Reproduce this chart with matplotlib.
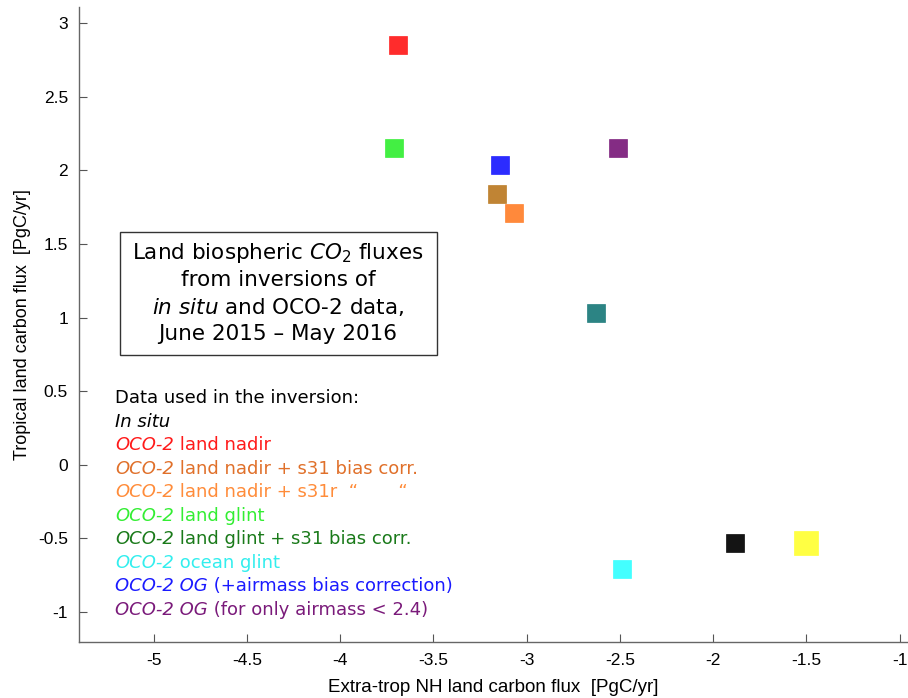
import matplotlib.pyplot as plt
from matplotlib.patches import Rectangle

# flux estimates [PgC/yr]
extratrop = [-3.69, -3.71, -3.14, -2.51, -3.16, -3.07, -2.63, -1.88, -1.50, -2.49]
tropical = [2.85, 2.15, 2.04, 2.15, 1.84, 1.71, 1.03, -0.53, -0.53, -0.71]
point_colors = ['#FF1A1A', '#33EE33', '#1A1AFF', '#7A1A7A', '#BB7A22',
                '#FF7F2A', '#1A7A7A', '#000000', '#FFFF33', '#33FFFF']
point_sizes = [13, 13, 13, 13, 13, 13, 13, 13, 17, 13]

# legend-style text: (italic part, normal part, colour)
legend_rows = [
    ('', 'Data used in the inversion:', '#000000'),
    ('In situ', '', '#000000'),
    ('OCO-2', ' land nadir', '#FF1A1A'),
    ('OCO-2', ' land nadir + s31 bias corr.', '#E0702A'),
    ('OCO-2', ' land nadir + s31r  \u201c       \u201c', '#FF8C3A'),
    ('OCO-2', ' land glint', '#33EE33'),
    ('OCO-2', ' land glint + s31 bias corr.', '#1A7A1A'),
    ('OCO-2', ' ocean glint', '#33EEEE'),
    ('OCO-2 OG', ' (+airmass bias correction)', '#1A1AFF'),
    ('OCO-2 OG', ' (for only airmass < 2.4)', '#7A1A7A'),
]

title_lines = [r'Land biospheric $\mathit{CO}_2$ fluxes',
               'from inversions of',
               r'$\mathit{in\ situ}$ and OCO-2 data,',
               'June 2015 \u2013 May 2016']

plt.rcParams['mathtext.fontset'] = 'dejavusans'

fig = plt.figure(figsize=(9.08, 6.98), dpi=100)
ax = fig.add_axes([0.087, 0.0802, 0.913, 0.9097])

for x, y, c, s in zip(extratrop, tropical, point_colors, point_sizes):
    ax.plot(x, y, 's', color=c, markersize=s, markeredgewidth=0.5,
            markeredgecolor=c, alpha=0.92)

ax.set_xlim(-5.4, -0.955)
ax.set_ylim(-1.204, 3.11)
ax.set_xticks([-5, -4.5, -4, -3.5, -3, -2.5, -2, -1.5, -1])
ax.set_xticklabels(['-5', '-4.5', '-4', '-3.5', '-3', '-2.5', '-2', '-1.5', '-1'])
ax.set_yticks([-1, -0.5, 0, 0.5, 1, 1.5, 2, 2.5, 3])
ax.set_yticklabels(['-1', '-0.5', '0', '0.5', '1', '1.5', '2', '2.5', '3'])
ax.tick_params(direction='in', length=6, width=0.8, color='#555555',
               labelsize=12.5, pad=8)
for lab in ax.get_xticklabels() + ax.get_yticklabels():
    lab.set_family('Liberation Sans')
ax.spines['top'].set_visible(False)
ax.spines['right'].set_visible(False)
for sp in ['left', 'bottom']:
    ax.spines[sp].set_color('#666666')
    ax.spines[sp].set_linewidth(1.0)

ax.set_xlabel('Extra-trop NH land carbon flux  [PgC/yr]', fontsize=13.5,
              family='Liberation Sans', labelpad=8)
ax.set_ylabel('Tropical land carbon flux  [PgC/yr]', fontsize=13,
              family='Liberation Sans', labelpad=5)

# title box
ax.add_patch(Rectangle(((120 - 79) / 829, (642 - 355) / 635), 317 / 829, 123 / 635,
                       transform=ax.transAxes, fill=False,
                       edgecolor='#333333', linewidth=1.0))
for i, line in enumerate(title_lines):
    py = 253 + i * 27
    ax.text((278 - 79) / 829, (642 - py) / 635, line, transform=ax.transAxes,
            ha='center', va='center', fontsize=15.5)

# data description list
for i, (ital, norm, c) in enumerate(legend_rows):
    py = 398 + i * 23.5
    yy = (642 - py) / 635
    xx = (115 - 79) / 829
    if ital:
        t = ax.text(xx, yy, ital, transform=ax.transAxes, color=c,
                    fontsize=13, style='italic', va='center', ha='left')
        if norm:
            ax.annotate(norm, xy=(1, 0), xycoords=t, va='bottom', ha='left',
                        color=c, fontsize=13)
    else:
        ax.text(xx, yy, norm, transform=ax.transAxes, color=c,
                fontsize=13, va='center', ha='left')

fig.savefig('out.png', dpi=100)
